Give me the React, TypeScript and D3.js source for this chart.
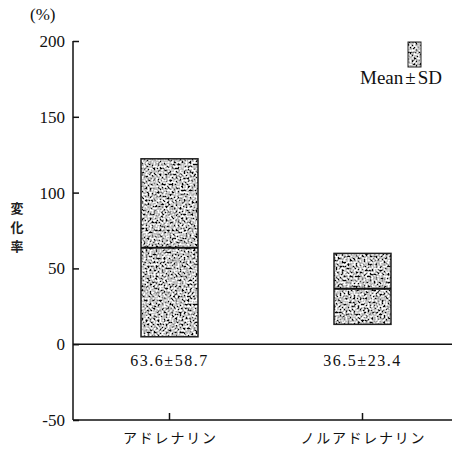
import React, { useEffect, useRef } from "react";
import * as d3 from "d3";

const categories = ["アドレナリン", "ノルアドレナリン"];
const means = [63.6, 36.5];
const sds = [58.7, 23.4];
const yTicks = [-50, 0, 50, 100, 150, 200];

const W = 452;
const H = 450;
const left = 73;
const top = 41;
const bottom = 420;
const serif = "'Liberation Serif', 'DejaVu Serif', serif";
const jp = "'Noto Sans CJK JP', sans-serif";

const App = () => {
  const axRef = useRef(null);
  const y = d3.scaleLinear().domain([-50, 200]).range([bottom, top]);
  const x = d3.scalePoint().domain(categories).range([left, 459]).padding(0.5);
  const boxW = 57;

  useEffect(() => {
    const g = d3.select(axRef.current);
    g.selectAll("*").remove();
    const yAxis = d3
      .axisRight(y)
      .tickValues(yTicks)
      .tickSize(6)
      .tickFormat(() => "");
    const ga = g.append("g").attr("transform", `translate(${left},0)`).call(yAxis);
    ga.select(".domain").remove();
    ga.selectAll("line").attr("stroke", "#111").attr("stroke-width", 1.5);
    ga.selectAll("text").remove();
  }, []);

  return (
    <svg width={W} height={H} style={{ position: "absolute", left: 0, top: 0, background: "#fff" }}>
      <defs>
        {/* halftone-like noise for the boxes */}
        <filter id="grain" x="0" y="0" width="100%" height="100%" filterUnits="objectBoundingBox">
          <feTurbulence type="fractalNoise" baseFrequency="0.5" numOctaves="3" seed="7" result="n" />
          <feColorMatrix
            in="n"
            type="matrix"
            values="2.9 0 0 0 -0.9  2.9 0 0 0 -0.9  2.9 0 0 0 -0.9  0 0 0 0 1"
            result="g"
          />
          <feComposite in="g" in2="SourceAlpha" operator="in" />
        </filter>
      </defs>

      {/* unit */}
      <text x={30} y={20} fontFamily={serif} fontSize={17} fill="#111">(%)</text>

      {/* y label, vertical */}
      {"変化率".split("").map((c, i) => (
        <text key={c} x={17} y={213 + i * 19} textAnchor="middle" fontFamily={jp} fontWeight="bold" fontSize={13} fill="#222">
          {c}
        </text>
      ))}

      {/* y tick labels */}
      {yTicks.map((t) => (
        <text key={t} x={65} y={y(t) + 6} textAnchor="end" fontFamily={serif} fontSize={17} fill="#111">
          {t}
        </text>
      ))}

      {/* boxes */}
      {categories.map((c, i) => {
        const cx = x(c) as number;
        const lo = means[i] - sds[i];
        const hi = means[i] + sds[i];
        return (
          <g key={c}>
            <rect x={cx - boxW / 2} y={y(hi)} width={boxW} height={y(lo) - y(hi)} fill="#999" filter="url(#grain)" />
            <rect x={cx - boxW / 2} y={y(hi)} width={boxW} height={y(lo) - y(hi)} fill="none" stroke="#222" strokeWidth={1.5} />
            <line x1={cx - boxW / 2} x2={cx + boxW / 2} y1={y(means[i])} y2={y(means[i])} stroke="#111" strokeWidth={2} />
            <text x={cx} y={y(0) + 22} textAnchor="middle" fontFamily={serif} fontSize={16} letterSpacing={1.5} fill="#111">
              {`${means[i].toFixed(1)}±${sds[i].toFixed(1)}`}
            </text>
            <line x1={cx} x2={cx} y1={bottom} y2={bottom - 7} stroke="#111" strokeWidth={1.5} />
            <text x={cx} y={bottom + 23} textAnchor="middle" fontFamily={jp} fontSize={14} fill="#111" textLength={i === 0 ? 93 : 124} lengthAdjust="spacing">
              {c}
            </text>
          </g>
        );
      })}

      {/* zero line */}
      <line x1={left} x2={W} y1={y(0)} y2={y(0)} stroke="#111" strokeWidth={1.5} />

      {/* axes */}
      <line x1={left} x2={left} y1={top} y2={bottom} stroke="#111" strokeWidth={1.5} />
      <line x1={left} x2={W} y1={bottom} y2={bottom} stroke="#111" strokeWidth={1.5} />
      <g ref={axRef} />

      {/* legend */}
      <rect x={408} y={42} width={13} height={25} fill="#999" filter="url(#grain)" />
      <rect x={408} y={42} width={13} height={25} fill="none" stroke="#222" strokeWidth={1} />
      <text x={360} y={84} fontFamily={serif} fontSize={19} fill="#111">
        Mean<tspan dx={2}>±</tspan><tspan dx={2}>SD</tspan>
      </text>
    </svg>
  );
};

export default App;
